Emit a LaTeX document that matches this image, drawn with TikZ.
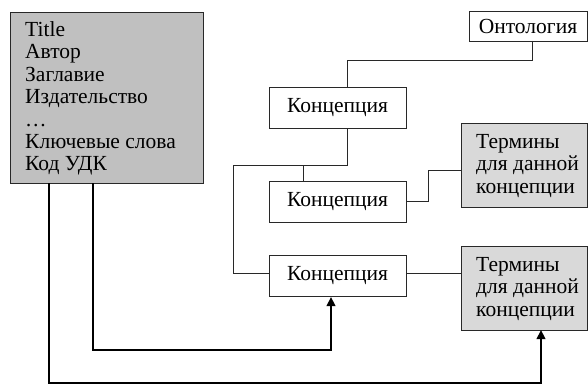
\documentclass[tikz,border=0pt]{standalone}
\usepackage{fontspec}
\setmainfont{Liberation Serif}
\usetikzlibrary{arrows.meta}
\definecolor{boxgray}{RGB}{192,192,192}
\definecolor{termgray}{RGB}{217,217,217}
\definecolor{edge}{RGB}{40,40,40}
\begin{document}
\begin{tikzpicture}[x=1pt,y=-1pt,
  txt/.style={inner sep=0pt,font=\fontsize{21.5}{22.4}\selectfont,align=left},
  box/.style={draw=edge,line width=0.8pt,inner sep=0pt,font=\fontsize{21.5}{22.4}\selectfont},
  conc/.style={box,fill=white,minimum width=137pt,minimum height=41pt},
  term/.style={box,fill=termgray,minimum width=126pt,minimum height=84pt},
  thin/.style={draw=edge,line width=0.8pt},
  thick/.style={draw=black,line width=2.8pt,-{Triangle[width=8.5pt,length=9pt]}}]
\useasboundingbox (0,0) rectangle (588,385);
\fill[white] (0,0) rectangle (588,385);
\node[box,fill=boxgray,minimum width=193pt,minimum height=171pt] (src) at (106.5,97.5) {};
\node[txt,anchor=west] (srctext) at (25,98.5)
  {Title\\Автор\\Заглавие\\Издательство\\\dots\\Ключевые слова\\Код УДК};
\node[box,fill=white,minimum width=118pt,minimum height=30pt] (ont) at (528,26) {Онтология};
\node[conc] (k1) at (337.5,108) {Концепция};
\node[conc] (k2) at (337.5,202) {Концепция};
\node[conc] (k3) at (337.5,276) {Концепция};
\node[term] (t1) at (524,165) {};
\node[txt,anchor=west] (t1text) at (476,166) {Термины\\для данной\\концепции};
\node[term] (t2) at (524,288) {};
\node[txt,anchor=west] (t2text) at (476,289) {Термины\\для данной\\концепции};
% tree connectors
\coordinate (o1) at (532,41);
\coordinate (k1t) at (347,88);
\coordinate (k1b) at (347,128);
\coordinate (k2t) at (303,181);
\coordinate (j1) at (347,165);
\coordinate (k2e) at (406,201);
\coordinate (t1w) at (461,170);
\coordinate (k3w) at (269,273);
\coordinate (t2w) at (461,273);
\draw[thin] (o1) -- (532,60) -- (347,60) -- (k1t);
\draw[thin] (k1b) -- (j1) -- (233,165) -- (233,273) -- (k3w);
\draw[thin] (303,165) -- (k2t);
\draw[thin] (k2e) -- (428,201) -- (428,170) -- (t1w);
\draw[thin] (406,273) -- (t2w);
% thick arrows
\coordinate (s1) at (93,183);
\coordinate (s2) at (49,183);
\coordinate (k3b) at (331,297);
\coordinate (t2b) at (541,330);
\draw[thick] (s1) -- (93,350) -- (331,350) -- (k3b);
\draw[thick] (s2) -- (49,383) -- (541,383) -- (t2b);
\end{tikzpicture}
\end{document}
